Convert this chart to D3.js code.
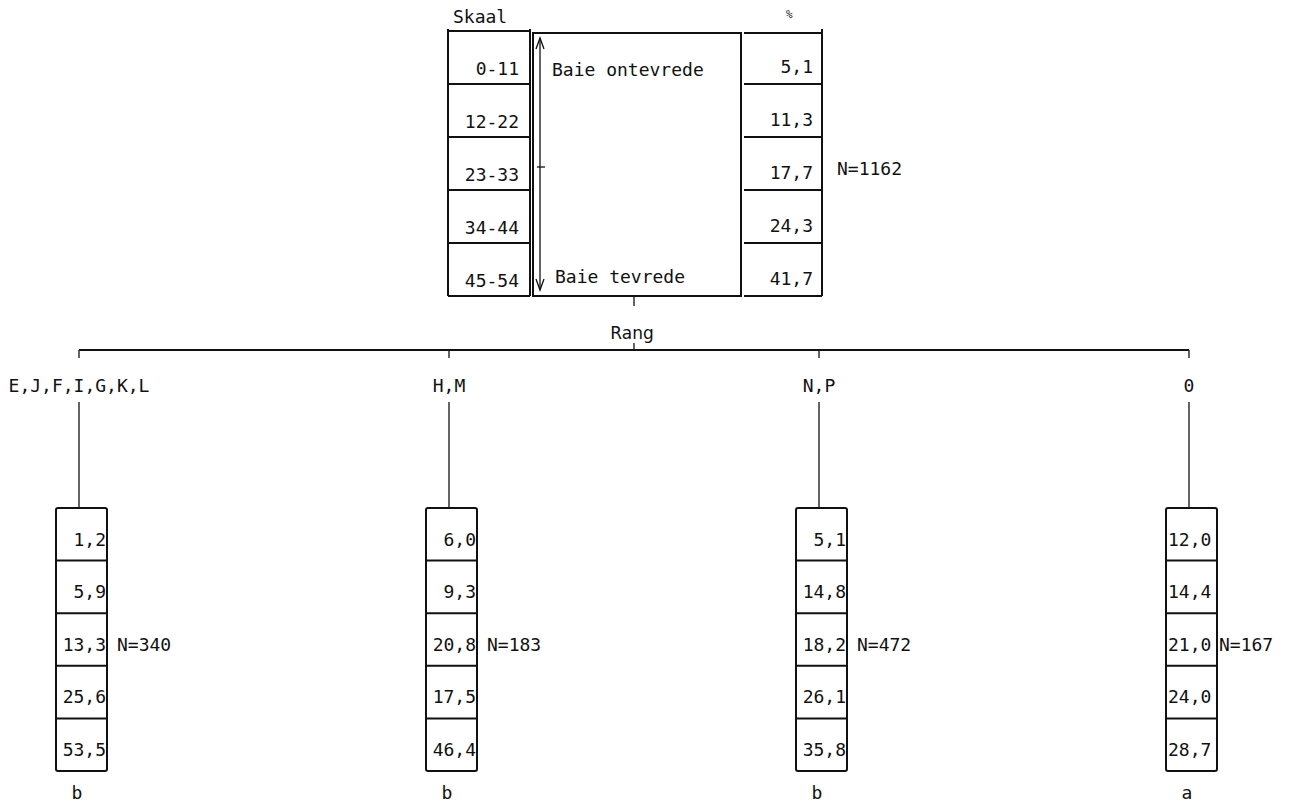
<!DOCTYPE html>
<html>
<head>
<meta charset="utf-8">
<script src="https://cdn.jsdelivr.net/npm/d3@7"></script>
<style>
  body { margin: 0; background: #fff; }
  text { font-family: "DejaVu Sans Mono", "Liberation Mono", monospace; font-size: 18px; fill: #111; }
  .rule { stroke: #111; stroke-width: 2; fill: none; }
  .thin { stroke: #111; stroke-width: 1.3; fill: none; }
</style>
</head>
<body>
<svg id="chart" width="1289" height="803"></svg>
<script>
// totaal
var scaleLabels = ["0-11", "12-22", "23-33", "34-44", "45-54"];
var totalPct = [5.1, 11.3, 17.7, 24.3, 41.7];
var totalN = 1162;
var endLabels = ["Baie ontevrede", "Baie tevrede"];

// per rang-groep
var groups = ["E,J,F,I,G,K,L", "H,M", "N,P", "0"];
var groupN = [340, 183, 472, 167];
var groupMark = ["b", "b", "b", "a"];
var pctEJF = [1.2, 5.9, 13.3, 25.6, 53.5];
var pctHM = [6.0, 9.3, 20.8, 17.5, 46.4];
var pctNP = [5.1, 14.8, 18.2, 26.1, 35.8];
var pctO = [12.0, 14.4, 21.0, 24.0, 28.7];
var groupPct = [pctEJF, pctHM, pctNP, pctO];

var fmt = d3.formatLocale({ decimal: ",", thousands: " ", grouping: [3], currency: ["", ""] }).format(".1f");
var svg = d3.select("#chart");

// ---- top block
var yTop = d3.scaleBand().domain(d3.range(scaleLabels.length)).range([31, 296]);
var skaal = { x0: 448, x1: 530 };
var mid = { x0: 533, x1: 741, top: 33 };
var pct = { x0: 742, x1: 822 };

svg.append("text").attr("x", 453).attr("y", 23).text("Skaal");
svg.append("text").attr("x", 786).attr("y", 18).style("font-size", "11px").text("%");

var lineY = [yTop.range()[0]].concat(scaleLabels.map((d, i) => yTop(i) + yTop.bandwidth()));
lineY.forEach((y, i) => {
  svg.append("line").attr("class", "rule")
    .attr("x1", skaal.x0).attr("x2", skaal.x1).attr("y1", y).attr("y2", y);
  svg.append("line").attr("class", "rule")
    .attr("x1", pct.x0 + 2).attr("x2", pct.x1).attr("y1", y + (i == 0 ? 2 : 0)).attr("y2", y + (i == 0 ? 2 : 0));
});
[skaal.x0, skaal.x1, pct.x1].forEach((x) => {
  svg.append("line").attr("class", "rule").attr("x1", x).attr("x2", x)
    .attr("y1", yTop.range()[0] - 2).attr("y2", yTop.range()[1]);
});
svg.append("rect").attr("class", "rule")
  .attr("x", mid.x0).attr("y", mid.top)
  .attr("width", mid.x1 - mid.x0).attr("height", yTop.range()[1] - mid.top);

svg.selectAll(".scaleLab").data(scaleLabels).join("text")
  .attr("x", skaal.x1 - 11)
  .attr("y", (d, i) => yTop(i) + yTop.bandwidth() - 9)
  .attr("text-anchor", "end")
  .text((d) => d);

svg.selectAll(".totLab").data(totalPct).join("text")
  .attr("x", pct.x1 - 9)
  .attr("y", (d, i) => yTop(i) + yTop.bandwidth() - 11)
  .attr("text-anchor", "end")
  .text((d) => fmt(d));

svg.append("text").attr("x", 837).attr("y", yTop(2) + yTop.bandwidth() - 15).text("N=" + totalN);

// double arrow
var ax = 540, ay0 = 38, ay1 = 290;
svg.append("line").attr("class", "thin").attr("x1", ax).attr("x2", ax).attr("y1", ay0).attr("y2", ay1);
svg.append("path").attr("class", "thin").attr("d", `M${ax - 4},${ay0 + 11}L${ax},${ay0}L${ax + 4},${ay0 + 11}`);
svg.append("path").attr("class", "thin").attr("d", `M${ax - 4},${ay1 - 11}L${ax},${ay1}L${ax + 4},${ay1 - 11}`);
svg.append("line").attr("class", "thin").attr("x1", ax - 3).attr("x2", ax + 5).attr("y1", 167).attr("y2", 167);
svg.append("text").attr("x", 552).attr("y", yTop(0) + yTop.bandwidth() - 8).text(endLabels[0]);
svg.append("text").attr("x", 555).attr("y", yTop(4) + yTop.bandwidth() - 13).text(endLabels[1]);

// ---- tree
var xG = d3.scalePoint().domain(groups).range([79, 1189]);
var treeY = 350, rootX = 634;
svg.append("line").attr("class", "thin").attr("x1", rootX).attr("x2", rootX).attr("y1", 296).attr("y2", 306);
svg.append("text").attr("x", rootX - 2).attr("y", 339).attr("text-anchor", "middle")
  .style("font-family", "'DejaVu Sans', sans-serif").style("font-size", "17px").text("Rang");
svg.append("line").attr("class", "thin").attr("x1", rootX).attr("x2", rootX).attr("y1", treeY - 7).attr("y2", treeY);
svg.append("line").attr("class", "rule")
  .attr("x1", xG(groups[0])).attr("x2", xG(groups[groups.length - 1])).attr("y1", treeY).attr("y2", treeY);

var ySub = d3.scaleBand().domain(d3.range(5)).range([508, 771]);
var boxW = 51, boxOff = 23;

groups.forEach((g, gi) => {
  var cx = xG(g);
  var last = gi == groups.length - 1;
  svg.append("line").attr("class", "thin").attr("x1", cx).attr("x2", cx).attr("y1", treeY).attr("y2", treeY + 8);
  svg.append("text").attr("x", cx).attr("y", 392).attr("text-anchor", "middle").text(g);
  svg.append("line").attr("class", "thin").attr("x1", cx).attr("x2", cx).attr("y1", 402).attr("y2", ySub.range()[0]);

  var bx = cx - boxOff;
  svg.append("rect").attr("class", "rule")
    .attr("x", bx).attr("y", ySub.range()[0]).attr("rx", 2)
    .attr("width", boxW).attr("height", ySub.range()[1] - ySub.range()[0]);
  d3.range(4).forEach((i) => {
    var y = ySub(i) + ySub.bandwidth();
    svg.append("line").attr("class", "rule").attr("x1", bx).attr("x2", bx + boxW).attr("y1", y).attr("y2", y);
  });

  svg.selectAll(".v" + gi).data(groupPct[gi]).join("text")
    .attr("x", last ? bx + 2 : bx + boxW - 1)
    .attr("y", (d, i) => ySub(i) + ySub.bandwidth() - 15)
    .attr("text-anchor", last ? "start" : "end")
    .text((d) => fmt(d));

  svg.append("text").attr("x", bx + boxW + (last ? 2 : 10)).attr("y", ySub(2) + ySub.bandwidth() - 15)
    .text("N=" + groupN[gi]);
  svg.append("text").attr("x", cx - 2).attr("y", 803 - 4).attr("text-anchor", "middle").text(groupMark[gi]);
});
</script>
</body>
</html>
